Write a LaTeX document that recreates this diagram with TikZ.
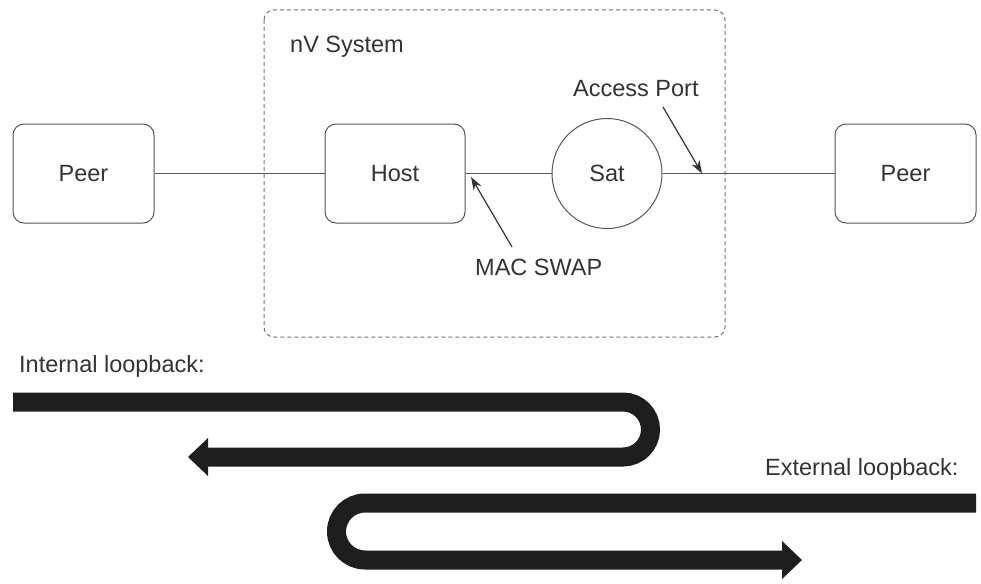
\documentclass[tikz,border=0pt]{standalone}
\usepackage{fontspec}
\setmainfont{Liberation Sans}
\usepackage{xcolor}
\usepackage{tikz}
\usetikzlibrary{calc,arrows.meta}
\definecolor{ink}{HTML}{333333}
\definecolor{edge}{HTML}{555555}
\definecolor{frameg}{HTML}{707070}
\definecolor{bandc}{HTML}{1E1E1E}
\tikzset{
  box/.style={draw=edge, line width=1pt, rounded corners=11pt, minimum width=141pt, minimum height=99pt, text=ink, font=\fontsize{23.5}{28}\selectfont},
  satnode/.style={draw=edge, line width=1pt, circle, minimum size=110pt, text=ink, font=\fontsize{23.5}{28}\selectfont},
  link/.style={draw=edge, line width=1pt},
  frame/.style={draw=frameg, line width=1pt, dash pattern=on 4pt off 3pt, rounded corners=10pt},
  lab/.style={text=ink, font=\fontsize{23.5}{28}\selectfont, inner sep=0pt},
  ptr/.style={draw=ink, line width=1.2pt, -{Stealth[length=13pt,width=9pt]}},
  band/.style={draw=bandc, line width=19pt, line cap=butt, -{Triangle[length=20pt,width=38pt,line width=0pt 0 0]}}
}
\begin{document}
\begin{tikzpicture}[x=1pt,y=-1pt]
  \useasboundingbox (0,0) rectangle (981,583);

  % nV system
  \draw[frame] (264,10) rectangle (725,337);
  \node[lab,anchor=base west] (nvlab) at (290,53) {nV System};

  \node[box] (peerL) at (83.5,173.5) {Peer};
  \node[box,minimum width=140pt] (host) at (395,173.5) {Host};
  \node[satnode] (sat) at (607,173.5) {Sat};
  \node[box] (peerR) at (905.5,173.5) {Peer};

  \draw[link] (peerL) -- (host);
  \draw[link] (host) -- (sat);
  \draw[link] (sat) -- (peerR);

  \coordinate (apTip) at (702,173.5);
  \coordinate (apTail) at (663,107);
  \node[lab,anchor=base west] (aplab) at (573,97) {Access Port};
  \draw[ptr] (apTail) -- (apTip);

  \coordinate (macTip) at (471,177);
  \coordinate (macTail) at (512,247);
  \node[lab,anchor=base west] (maclab) at (475,275) {MAC SWAP};
  \draw[ptr] (macTail) -- (macTip);

  % loopbacks
  \node[lab,anchor=base west] (intlab) at (19,372) {Internal loopback:};
  \coordinate (inStart) at (13,402);
  \coordinate (inEnd) at (188,457);
  \draw[band] (inStart) -- (623,402) arc[start angle=-90, end angle=90, radius=27.5] -- (inEnd);

  \node[lab,anchor=base west] (extlab) at (765,475) {External loopback:};
  \coordinate (exStart) at (976,503);
  \coordinate (exEnd) at (802,560);
  \draw[band] (exStart) -- (365,503) arc[start angle=270, end angle=90, radius=28.5] -- (exEnd);
\end{tikzpicture}
\end{document}
